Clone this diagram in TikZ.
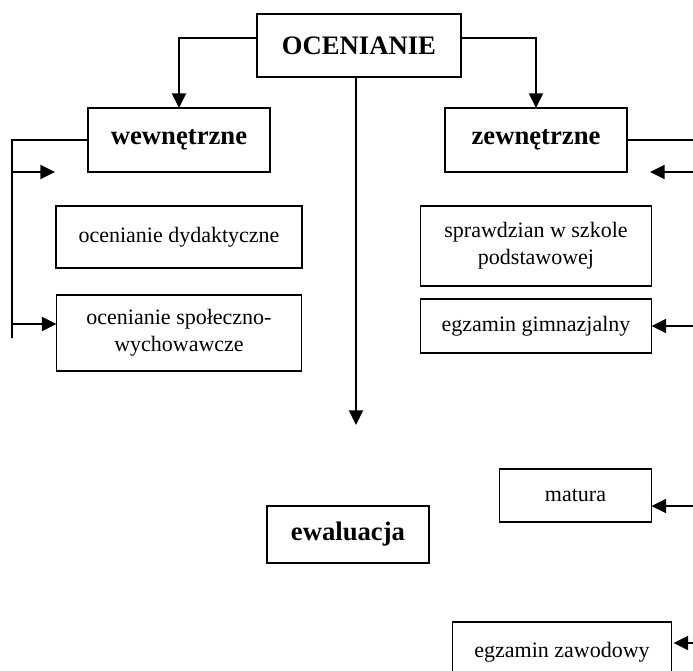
\documentclass[tikz,border=0pt]{standalone}
\usepackage{fontspec}
\setmainfont{Liberation Serif}
\usetikzlibrary{positioning,arrows.meta}

\begin{document}
\begin{tikzpicture}[x=0.75pt, y=-0.75pt, ->, >={Triangle[length=11pt,width=10.5pt]}, line width=1.4pt, on grid,
  box/.style={draw, rectangle, inner sep=0pt, outer sep=0pt, align=center, font=\fontsize{16.5}{20}\selectfont},
  headbox/.style={box, font=\fontsize{20}{24}\selectfont\bfseries}]
			 \useasboundingbox (0,0) rectangle (693,671);
			 \node [headbox, minimum width=153pt, minimum height=47.25pt] (OCEN) at (359,45.5) {OCENIANIE};
			 \node [headbox, minimum width=136.5pt, minimum height=48pt] (WEW) [below left =70.9pt and 135pt of OCEN] {wewnętrzne};
			 \node [headbox, minimum width=136.5pt, minimum height=48pt] (ZEW) [below right =70.9pt and 132.75pt of OCEN] {zewnętrzne};
			 \node [box, minimum width=184.5pt, minimum height=46.5pt] (DYD) [below =72.75pt of WEW] {ocenianie dydaktyczne};
			 \node [box, minimum width=183.75pt, minimum height=57pt] (SPO) [below =72pt of DYD] {ocenianie społeczno-\\wychowawcze};
			 \node [box, minimum width=173.25pt, minimum height=60pt] (SPR) [below =79.5pt of ZEW] {sprawdzian w szkole\\podstawowej};
			 \node [box, minimum width=173.25pt, minimum height=40.5pt] (GIM) [below =60pt of SPR] {egzamin gimnazjalny};
			 \node [box, minimum width=114pt, minimum height=39.75pt] (MAT) [below right =127.1pt and 29.6pt of GIM] {matura};
			 \node [headbox, minimum width=121.5pt, minimum height=42.75pt] (EWA) [below left =366.75pt and 8.25pt of OCEN] {ewaluacja};
			 \node [box, minimum width=164.25pt, minimum height=45pt] (ZAW) [below left =117.4pt and 10.1pt of MAT] {egzamin zawodowy};
			 % free ends
			 \coordinate (MIDEND) at (356,425);
			 \coordinate (LTOP) at (12,140);
			 \coordinate (LBOT) at (12,338);
			 \coordinate (LARR) at (55,172);
			 \coordinate (SPOIN) at ([yshift=6.75pt]SPO.west);
			 \coordinate (REDGE) at (700,140);
			 \coordinate (RARR) at (650,172);
			 \coordinate (MATIN) at ([yshift=-7.9pt]MAT.east);
			 \coordinate (ZAWIN) at ([yshift=6.75pt,xshift=1.5pt]ZAW.east);
			 \draw ([yshift=5.6pt]OCEN.west) -| (WEW.north);
			 \draw ([yshift=5.6pt]OCEN.east) -| (ZEW.north);
			 \draw (OCEN.south -| MIDEND) -- (MIDEND);
			 \draw [-] (WEW.west) -- (LTOP) -- (LBOT);
			 \draw (LARR -| LTOP) -- (LARR);
			 \draw (SPOIN -| LTOP) -- (SPOIN);
			 \draw [-] (ZEW.east) -- (ZEW.east -| REDGE);
			 \draw (RARR -| REDGE) -- (RARR);
			 \draw (GIM.east -| REDGE) -- (GIM.east);
			 \draw (MATIN -| REDGE) -- (MATIN);
			 \draw (ZAWIN -| REDGE) -- (ZAWIN);
		\end{tikzpicture}
\end{document}
